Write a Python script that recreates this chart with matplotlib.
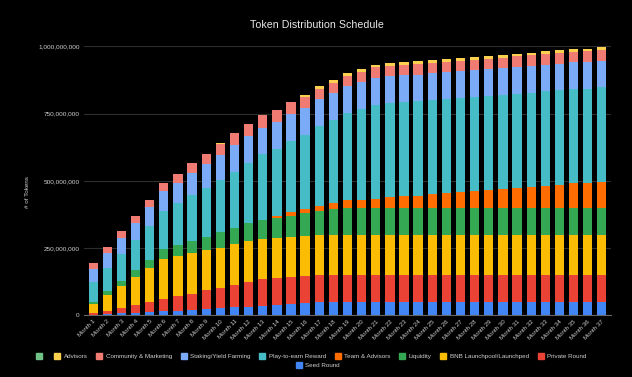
import matplotlib
matplotlib.use("Agg")
import matplotlib.pyplot as plt
import numpy as np
from matplotlib.lines import Line2D

plt.rcParams["font.family"] = ["Liberation Sans", "DejaVu Sans"]

# ---------------------------------------------------------------
# Data (millions of tokens, unlocked per month, stacked bottom -> top)
# ---------------------------------------------------------------
months = [f"Month {i}" for i in range(1, 38)]

seed_round = [2, 5, 7, 10, 12, 15, 17, 20, 23, 27, 30, 32, 35, 37, 41, 45, 48, 49,
              50, 50, 50, 50, 50, 50, 50, 50, 50, 50, 50, 50, 50, 50, 50, 50, 50, 50, 50]
private_round = [5, 11, 19, 27, 38, 45, 55, 61, 70, 74, 84, 93, 100, 100, 100, 100, 100, 100,
                 100, 100, 100, 100, 100, 100, 100, 100, 100, 100, 100, 100, 100, 100, 100, 100, 100, 100, 100]
bnb_launchpool = [35, 60, 83, 106, 127, 150, 150, 150, 150, 150, 150, 150, 150, 150, 150, 150, 150, 150,
                  150, 150, 150, 150, 150, 150, 150, 150, 150, 150, 150, 150, 150, 150, 150, 150, 150, 150, 150]
liquidity = [9, 15, 19, 26, 30, 36, 38, 46, 48, 57, 61, 67, 70, 76, 80, 85, 91, 95,
             99, 100, 100, 100, 100, 100, 100, 100, 100, 100, 100, 100, 100, 100, 100, 100, 100, 100, 100]
team_advisors = [0, 0, 0, 0, 0, 0, 0, 0, 0, 0, 0, 0, 1, 7, 14, 16, 19, 23,
                 28, 30, 34, 38, 43, 45, 50, 53, 58, 61, 65, 69, 74, 77, 82, 86, 90, 92, 97]
play_to_earn = [72, 83, 100, 112, 125, 141, 157, 170, 182, 194, 209, 224, 242, 250, 263, 276, 296, 309,
                324, 336, 349, 350, 350, 350, 350, 350, 350, 350, 350, 350, 350, 350, 350, 350, 350, 350, 350]
staking = [49, 56, 59, 62, 70, 74, 76, 83, 90, 95, 99, 100, 100, 100, 100, 100, 100, 100,
           100, 100, 100, 100, 100, 100, 100, 100, 100, 100, 100, 100, 100, 100, 100, 100, 100, 100, 100]
community = [21, 23, 25, 28, 28, 30, 33, 36, 37, 40, 43, 45, 45, 43, 44, 41, 39, 39,
             39, 39, 39, 39, 39, 39, 39, 39, 39, 39, 39, 39, 39, 39, 39, 39, 39, 39, 39]
advisors = [0, 0, 0, 0, 0, 0, 0, 2, 1, 2, 2, 2, 1, 2, 2, 7, 8, 10,
            10, 10, 10, 10, 10, 10, 10, 10, 10, 10, 10, 10, 10, 10, 10, 10, 10, 10, 10]
unnamed = [0] * 37

series = [
    ("Seed Round", seed_round, "#4285F4"),
    ("Private Round", private_round, "#EA4335"),
    ("BNB Launchpool/Launchped", bnb_launchpool, "#FBBC04"),
    ("Liquidity", liquidity, "#34A853"),
    ("Team & Advisors", team_advisors, "#FF6D01"),
    ("Play-to-earn Reward", play_to_earn, "#46BDC6"),
    ("Staking/Yield Farming", staking, "#7BAAF7"),
    ("Community & Marketing", community, "#F07B72"),
    ("Advisors", advisors, "#FCD04F"),
    ("", unnamed, "#71C287"),
]

TEXT = "#d0d0d0"

# ---------------------------------------------------------------
# Plot
# ---------------------------------------------------------------
fig = plt.figure(figsize=(6.32, 3.77), dpi=100, facecolor="black")
ax = fig.add_axes([84 / 632, 1 - 315.3 / 377, 527 / 632, 269 / 377])
ax.set_facecolor("black")

x = np.arange(len(months))
bottom = np.zeros(len(months))
for name, vals, color in series:
    v = np.array(vals, dtype=float) * 1e6
    ax.bar(x, v, bottom=bottom, width=0.66, color=color, linewidth=0)
    bottom += v

ax.set_xlim(-0.65, len(months) - 0.35)
ax.set_ylim(0, 1e9)
ax.set_yticks([0, 250e6, 500e6, 750e6, 1e9])
ax.set_yticklabels(["0", "250,000,000", "500,000,000", "750,000,000", "1,000,000,000"])
ax.yaxis.grid(True, color="#2e2e2e", linewidth=0.8)
ax.set_axisbelow(True)
for s in ["top", "right", "left"]:
    ax.spines[s].set_visible(False)
ax.spines["bottom"].set_color("#666666")
ax.spines["bottom"].set_linewidth(0.8)
ax.tick_params(axis="y", length=0, labelsize=4.6, colors=TEXT, pad=3)
ax.tick_params(axis="x", length=0, labelsize=4.4, colors=TEXT, pad=2.5)
ax.set_xticks(x)
ax.set_xticklabels(months, rotation=45, ha="right", rotation_mode="anchor")

fig.text(317 / 632, 1 - 25 / 377, "Token Distribution Schedule", ha="center", va="center",
         fontsize=7.7, color="#e8e8e8")
fig.text(27.5 / 632, 1 - 192 / 377, "# of Tokens", rotation=90, ha="center", va="center",
         fontsize=4.5, color=TEXT)

# legend: first nine entries on one row, Seed Round centred below
def handle(color):
    return Line2D([], [], marker="s", linestyle="", markersize=4.3, color=color)

legend_order = series[::-1]
row1 = legend_order[:-1]
leg1 = fig.legend([handle(c) for _, _, c in row1], [n for n, _, _ in row1],
                  loc="center", bbox_to_anchor=(311.5 / 632, 1 - 356 / 377), ncol=len(row1),
                  frameon=False, fontsize=4.5, labelcolor=TEXT, handlelength=0.8,
                  handletextpad=0.6, columnspacing=1.5, borderpad=0)
name, _, color = legend_order[-1]
fig.legend([handle(color)], [name], loc="center", bbox_to_anchor=(318 / 632, 1 - 365.5 / 377),
           frameon=False, fontsize=4.5, labelcolor=TEXT, handlelength=0.8,
           handletextpad=0.6, borderpad=0)

fig.savefig("out.png", dpi=100, facecolor="black")
